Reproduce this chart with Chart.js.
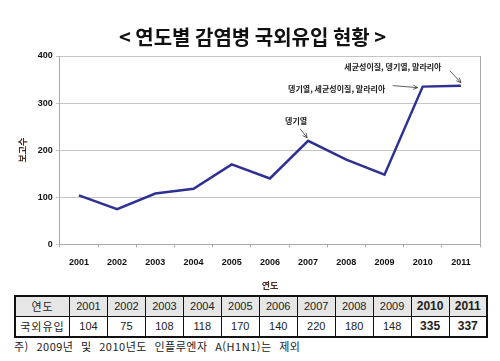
<!DOCTYPE html>
<html lang="ko">
<head>
<meta charset="UTF-8">
<title>연도별 감염병 국외유입 현황</title>
<style>
  body { margin: 0; background: #fff; font-family: "Noto Sans CJK KR", sans-serif; }
  #wrap { position: relative; width: 500px; height: 361px; }
  #chartBox { position: absolute; left: 0; top: 0; width: 500px; height: 291px; }
  table.data {
    position: absolute; left: 14px; top: 295px; width: 474px;
    border-collapse: collapse; border: 2px solid #111;
    font-family: "Liberation Sans", Arial, sans-serif; font-size: 11px; color: #222;
    table-layout: fixed;
  }
  table.data td { border: 1px solid #111; text-align: center; height: 19px; padding: 0; line-height: 19px; }
  table.data tr.head td { background: #e6e6e6; }
  table.data td.first { width: 53px; font-family: "Noto Sans CJK KR", sans-serif; font-size: 11px; letter-spacing: 1px; }
  table.data td.bold { font-weight: bold; font-size: 12px; }
  #note {
    position: absolute; left: 14px; top: 338px;
    font-size: 11px; color: #222; word-spacing: 4px; letter-spacing: 0.5px;
  }
</style>
</head>
<body>
<div id="wrap">
  <div id="chartBox"><canvas id="importChart" width="500" height="291"></canvas></div>
  <table class="data" id="dataTable"></table>
  <div id="note">주) 2009년 및 2010년도 인플루엔자 A(H1N1)는 제외</div>
</div>

<script src="https://cdn.jsdelivr.net/npm/chart.js"></script>
<script>
// data
const years = ['2001', '2002', '2003', '2004', '2005', '2006', '2007', '2008', '2009', '2010', '2011'];
const imported = [104, 75, 108, 118, 170, 140, 220, 180, 148, 335, 337];
const boldYears = ['2010', '2011'];
const yTicks = [0, 100, 200, 300, 400];

// callouts: which year, the text
const noteYears = ['2007', '2010', '2011'];
const noteTexts = ['뎅기열', '뎅기열, 세균성이질, 말라리아', '세균성이질, 뎅기열, 말라리아'];

// build the table below the chart
const table = document.getElementById('dataTable');
const headRow = table.insertRow();
headRow.className = 'head';
const valRow = table.insertRow();
let c = headRow.insertCell(); c.textContent = '연도'; c.className = 'first';
c = valRow.insertCell(); c.textContent = '국외유입'; c.className = 'first';
years.forEach((y, i) => {
    const h = headRow.insertCell();
    h.textContent = y;
    const v = valRow.insertCell();
    v.textContent = imported[i];
    if (boldYears.includes(y)) { h.className = 'bold'; v.className = 'bold'; }
});

function arrow(ctx, x1, y1, x2, y2) {
    ctx.beginPath();
    ctx.moveTo(x1, y1);
    ctx.lineTo(x2, y2);
    ctx.stroke();
    const a = Math.atan2(y2 - y1, x2 - x1);
    ctx.beginPath();
    ctx.moveTo(x2, y2);
    ctx.lineTo(x2 - 5 * Math.cos(a - 0.45), y2 - 5 * Math.sin(a - 0.45));
    ctx.moveTo(x2, y2);
    ctx.lineTo(x2 - 5 * Math.cos(a + 0.45), y2 - 5 * Math.sin(a + 0.45));
    ctx.stroke();
}

// callout text and arrows, placed from the point positions
const calloutPlugin = {
    id: 'callouts',
    afterDatasetsDraw(chart) {
        const ctx = chart.ctx;
        const pts = chart.getDatasetMeta(0).data;
        ctx.save();
        ctx.font = 'bold 8px "Noto Sans CJK KR"';
        ctx.fillStyle = '#222';
        ctx.strokeStyle = '#333';
        ctx.lineWidth = 0.8;
        ctx.textBaseline = 'middle';
        ctx.textAlign = 'center';
        noteYears.forEach((y, k) => {
            const p = pts[years.indexOf(y)];
            if (k === 0) {
                ctx.fillText(noteTexts[k], p.x - 12, p.y - 20);
                arrow(ctx, p.x - 8, p.y - 12, p.x - 1, p.y - 3);
            } else if (k === 1) {
                ctx.fillText(noteTexts[k], p.x - 86, p.y + 2);
                arrow(ctx, p.x - 30, p.y - 1, p.x - 5, p.y + 1);
            } else {
                ctx.fillText(noteTexts[k], p.x - 68, p.y - 19);
                arrow(ctx, p.x - 11, p.y - 15, p.x, p.y - 3);
            }
        });
        ctx.restore();
    }
};

new Chart(document.getElementById('importChart'), {
    type: 'line',
    data: {
        labels: years,
        datasets: [{
            data: imported,
            borderColor: '#2e3192',
            borderWidth: 2.5,
            pointRadius: 0,
            tension: 0,
            fill: false
        }]
    },
    options: {
        responsive: false,
        animation: false,
        layout: { padding: { left: 17, right: 12, top: 0, bottom: 0 } },
        plugins: {
            legend: { display: false },
            tooltip: { enabled: false },
            title: {
                display: true,
                text: '< 연도별 감염병 국외유입 현황 >',
                color: '#111',
                font: { family: '"Noto Sans CJK KR"', size: 20, weight: 'bold' },
                padding: { top: 25, bottom: 7 }
            }
        },
        scales: {
            x: {
                offset: true,
                grid: { offset: true, drawOnChartArea: false, tickLength: 3, color: '#aaa' },
                border: { color: '#aaa' },
                ticks: { color: '#111', maxRotation: 0, font: { family: '"Liberation Sans"', size: 9, weight: 'bold' }, padding: 10 },
                title: {
                    display: true, text: '연도', color: '#4a2a20',
                    font: { family: '"Noto Sans CJK KR"', size: 9, weight: 'bold' },
                    padding: { top: 2, bottom: 0 }
                }
            },
            y: {
                min: 0, max: 400,
                afterBuildTicks: axis => { axis.ticks = yTicks.map(v => ({ value: v })); },
                grid: { color: '#c4c4c4', tickLength: 4 },
                border: { color: '#aaa' },
                ticks: { color: '#111', font: { family: '"Liberation Sans"', size: 9, weight: 'bold' }, padding: 3 },
                title: {
                    display: true, text: '보고수', color: '#4a2a20',
                    font: { family: '"Noto Sans CJK KR"', size: 9, weight: 'bold' },
                    padding: { top: 0, bottom: 7 }
                }
            },
            y2: {
                position: 'right', min: 0, max: 400,
                grid: { display: false },
                ticks: { display: false },
                border: { display: true, color: '#aaa' }
            }
        }
    },
    plugins: [calloutPlugin]
});
</script>
</body>
</html>
